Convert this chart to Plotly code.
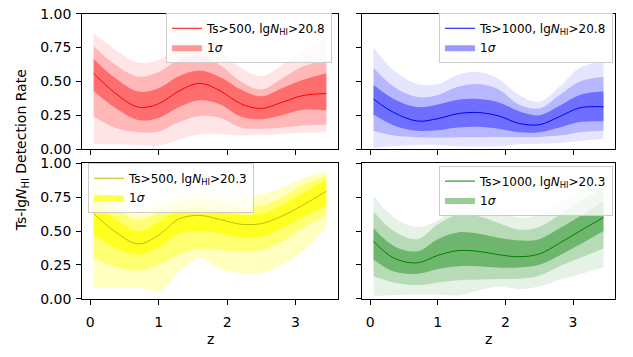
import plotly.graph_objects as go

W, H = 633, 357

# ---------------- data ----------------
z = [0.05, 0.35, 0.7, 1.0, 1.3, 1.6, 1.9, 2.2, 2.5, 2.8, 3.1, 3.45]

# panel 1: Ts>500, lgNHI>20.8 (red)
red_mid = [0.56, 0.42, 0.31, 0.335, 0.43, 0.485, 0.43, 0.335, 0.30, 0.345, 0.395, 0.41]
red_1_hi = [0.665, 0.53, 0.425, 0.45, 0.54, 0.58, 0.53, 0.44, 0.39, 0.45, 0.51, 0.56]
red_1_lo = [0.43, 0.31, 0.215, 0.23, 0.31, 0.36, 0.33, 0.24, 0.22, 0.25, 0.29, 0.285]
red_2_hi = [0.76, 0.63, 0.535, 0.57, 0.66, 0.69, 0.62, 0.50, 0.44, 0.52, 0.61, 0.655]
red_2_lo = [0.24, 0.16, 0.125, 0.13, 0.20, 0.245, 0.23, 0.16, 0.15, 0.16, 0.175, 0.18]
red_3_hi = [0.855, 0.74, 0.64, 0.66, 0.75, 0.78, 0.72, 0.60, 0.54, 0.62, 0.73, 0.81]
red_3_lo = [0.04, 0.035, 0.03, 0.025, 0.07, 0.11, 0.11, 0.10, 0.105, 0.11, 0.12, 0.125]

# panel 2: Ts>1000, lgNHI>20.8 (blue)
blue_mid = [0.37, 0.27, 0.207, 0.225, 0.262, 0.27, 0.245, 0.19, 0.18, 0.24, 0.305, 0.312]
blue_1_hi = [0.475, 0.37, 0.31, 0.33, 0.365, 0.37, 0.345, 0.28, 0.25, 0.32, 0.40, 0.425]
blue_1_lo = [0.255, 0.175, 0.135, 0.14, 0.16, 0.165, 0.15, 0.125, 0.125, 0.16, 0.20, 0.206]
blue_2_hi = [0.60, 0.46, 0.385, 0.40, 0.46, 0.48, 0.44, 0.33, 0.30, 0.40, 0.50, 0.535]
blue_2_lo = [0.135, 0.10, 0.088, 0.085, 0.088, 0.088, 0.09, 0.088, 0.09, 0.10, 0.125, 0.136]
blue_3_hi = [0.75, 0.58, 0.48, 0.48, 0.55, 0.57, 0.52, 0.40, 0.35, 0.46, 0.60, 0.655]
blue_3_lo = [0.006, 0.02, 0.03, 0.03, 0.02, 0.018, 0.02, 0.035, 0.04, 0.045, 0.06, 0.076]

# panel 3: Ts>500, lgNHI>20.3 (yellow)
yel_mid = [0.63, 0.50, 0.405, 0.47, 0.59, 0.615, 0.585, 0.55, 0.555, 0.61, 0.69, 0.795]
yel_1_hi = [0.73, 0.60, 0.50, 0.57, 0.66, 0.675, 0.65, 0.62, 0.63, 0.69, 0.78, 0.88]
yel_1_lo = [0.47, 0.38, 0.325, 0.38, 0.48, 0.50, 0.48, 0.455, 0.46, 0.52, 0.60, 0.69]
yel_2_hi = [0.80, 0.68, 0.58, 0.64, 0.71, 0.725, 0.71, 0.68, 0.69, 0.75, 0.84, 0.91]
yel_2_lo = [0.30, 0.24, 0.207, 0.25, 0.33, 0.37, 0.36, 0.35, 0.36, 0.42, 0.52, 0.62]
yel_3_hi = [0.86, 0.76, 0.66, 0.71, 0.77, 0.78, 0.77, 0.76, 0.77, 0.82, 0.89, 0.94]
yel_3_lo = [0.078, 0.08, 0.078, 0.054, 0.20, 0.30, 0.22, 0.19, 0.19, 0.25, 0.35, 0.525]

# panel 4: Ts>1000, lgNHI>20.3 (green)
grn_mid = [0.424, 0.30, 0.265, 0.32, 0.355, 0.35, 0.325, 0.31, 0.33, 0.41, 0.50, 0.60]
grn_1_hi = [0.52, 0.39, 0.35, 0.44, 0.49, 0.48, 0.45, 0.43, 0.44, 0.52, 0.61, 0.72]
grn_1_lo = [0.29, 0.20, 0.184, 0.22, 0.24, 0.24, 0.23, 0.23, 0.25, 0.32, 0.40, 0.50]
grn_2_hi = [0.645, 0.50, 0.44, 0.55, 0.62, 0.61, 0.56, 0.51, 0.53, 0.62, 0.72, 0.81]
grn_2_lo = [0.165, 0.12, 0.10, 0.12, 0.137, 0.14, 0.145, 0.148, 0.17, 0.24, 0.30, 0.37]
grn_3_hi = [0.76, 0.60, 0.53, 0.58, 0.68, 0.70, 0.65, 0.60, 0.62, 0.70, 0.80, 0.88]
grn_3_lo = [0.02, 0.025, 0.03, 0.03, 0.024, 0.06, 0.09, 0.07, 0.09, 0.14, 0.18, 0.23]

labels = [
    "Ts>500, lg<i>N</i><sub>HI</sub>>20.8",
    "Ts>1000, lg<i>N</i><sub>HI</sub>>20.8",
    "Ts>500, lg<i>N</i><sub>HI</sub>>20.3",
    "Ts>1000, lg<i>N</i><sub>HI</sub>>20.3",
]
x_ticks = [0, 1, 2, 3]
y_ticks = [0.0, 0.25, 0.5, 0.75, 1.0]
y_tick_text = ["0.00", "0.25", "0.50", "0.75", "1.00"]

# ---------------- style ----------------
panels = [
    dict(mid=red_mid, bands=[(red_3_lo, red_3_hi), (red_2_lo, red_2_hi), (red_1_lo, red_1_hi)],
         line="#FF0000", rgb="255,0,0", alphas=[0.1, 0.2, 0.4]),
    dict(mid=blue_mid, bands=[(blue_3_lo, blue_3_hi), (blue_2_lo, blue_2_hi), (blue_1_lo, blue_1_hi)],
         line="#0000FF", rgb="0,0,255", alphas=[0.1, 0.2, 0.4]),
    dict(mid=yel_mid, bands=[(yel_3_lo, yel_3_hi), (yel_2_lo, yel_2_hi), (yel_1_lo, yel_1_hi)],
         line="#BFBF00", rgb="255,255,0", alphas=[0.25, 0.4, 0.7]),
    dict(mid=grn_mid, bands=[(grn_3_lo, grn_3_hi), (grn_2_lo, grn_2_hi), (grn_1_lo, grn_1_hi)],
         line="#008000", rgb="0,128,0", alphas=[0.1, 0.2, 0.4]),
]

# panel pixel boxes (left, right, top, bottom)
boxes = [(82, 338, 6, 147.7), (362, 615, 6, 147.7),
         (82, 338, 162.7, 304.3), (362, 615, 162.7, 304.3)]

fig = go.Figure()
legend_names = ["legend", "legend2", "legend3", "legend4"]

for i, p in enumerate(panels):
    sfx = "" if i == 0 else str(i + 1)
    xa, ya = "x" + sfx, "y" + sfx
    lg = legend_names[i]
    for j, (lo, hi) in enumerate(p["bands"]):
        fc = "rgba(%s,%s)" % (p["rgb"], p["alphas"][j])
        fig.add_trace(go.Scatter(x=z, y=lo, mode="lines", line=dict(width=0, shape="spline"),
                                 showlegend=False, hoverinfo="skip", xaxis=xa, yaxis=ya))
        fig.add_trace(go.Scatter(x=z, y=hi, mode="lines", line=dict(width=0, shape="spline"),
                                 fill="tonexty", fillcolor=fc, name="1<i>σ</i>",
                                 showlegend=(j == 2), legend=lg, legendrank=2,
                                 hoverinfo="skip", xaxis=xa, yaxis=ya))
    fig.add_trace(go.Scatter(x=z, y=p["mid"], mode="lines",
                             line=dict(color=p["line"], width=1, shape="spline"),
                             name=labels[i], legend=lg, legendrank=1,
                             xaxis=xa, yaxis=ya))

font_family = "DejaVu Sans"
layout = dict(
    width=W, height=H, margin=dict(l=0, r=0, t=0, b=0),
    paper_bgcolor="white", plot_bgcolor="white",
    font=dict(family=font_family, size=14, color="black"),
)

for i, (l, r, t, b) in enumerate(boxes):
    sfx = "" if i == 0 else str(i + 1)
    show_x = i >= 2
    show_y = i % 2 == 0
    layout["xaxis" + sfx] = dict(
        domain=[l / W, r / W], anchor="y" + sfx, range=[-0.12, 3.62],
        tickmode="array", tickvals=x_ticks, showticklabels=show_x,
        ticks="outside", ticklen=5, tickwidth=0.8, tickcolor="black",
        ticklabelstandoff=6,
        showline=True, linecolor="black", linewidth=0.8, mirror=True,
        showgrid=False, zeroline=False, tickfont=dict(size=14),
    )
    layout["yaxis" + sfx] = dict(
        domain=[1 - b / H, 1 - t / H], anchor="x" + sfx, range=[0, 1],
        tickmode="array", tickvals=y_ticks, ticktext=y_tick_text, showticklabels=show_y,
        ticks="outside", ticklen=5, tickwidth=0.8, tickcolor="black",
        ticklabelstandoff=2,
        showline=True, linecolor="black", linewidth=0.8, mirror=True,
        showgrid=False, zeroline=False, tickfont=dict(size=14),
    )

leg_common = dict(bgcolor="rgba(255,255,255,0.8)", bordercolor="#CCCCCC", borderwidth=1,
                  font=dict(size=12), itemwidth=30, tracegroupgap=0, yanchor="top",
                  traceorder="normal")
layout["legend"] = dict(leg_common, x=332 / W, xanchor="right", y=1 - 5 / H)
layout["legend2"] = dict(leg_common, x=613 / W, xanchor="right", y=1 - 5 / H)
layout["legend3"] = dict(leg_common, x=88 / W, xanchor="left", y=1 - 162 / H)
layout["legend4"] = dict(leg_common, x=613 / W, xanchor="right", y=1 - 165 / H)

layout["annotations"] = [
    dict(text="Ts-lg<i>N</i><sub>HI</sub> Detection Rate", textangle=-90,
         x=22 / W, y=1 - 149 / H, xref="paper", yref="paper",
         xanchor="center", yanchor="middle",
         showarrow=False, font=dict(size=14)),
    dict(text="z", x=210 / W, y=1 - 347 / H, xref="paper", yref="paper",
         xanchor="center", yanchor="middle",
         showarrow=False, font=dict(size=14)),
    dict(text="z", x=488.5 / W, y=1 - 347 / H, xref="paper", yref="paper",
         xanchor="center", yanchor="middle",
         showarrow=False, font=dict(size=14)),
]

fig.update_layout(**layout)
fig.write_html("out.html")
